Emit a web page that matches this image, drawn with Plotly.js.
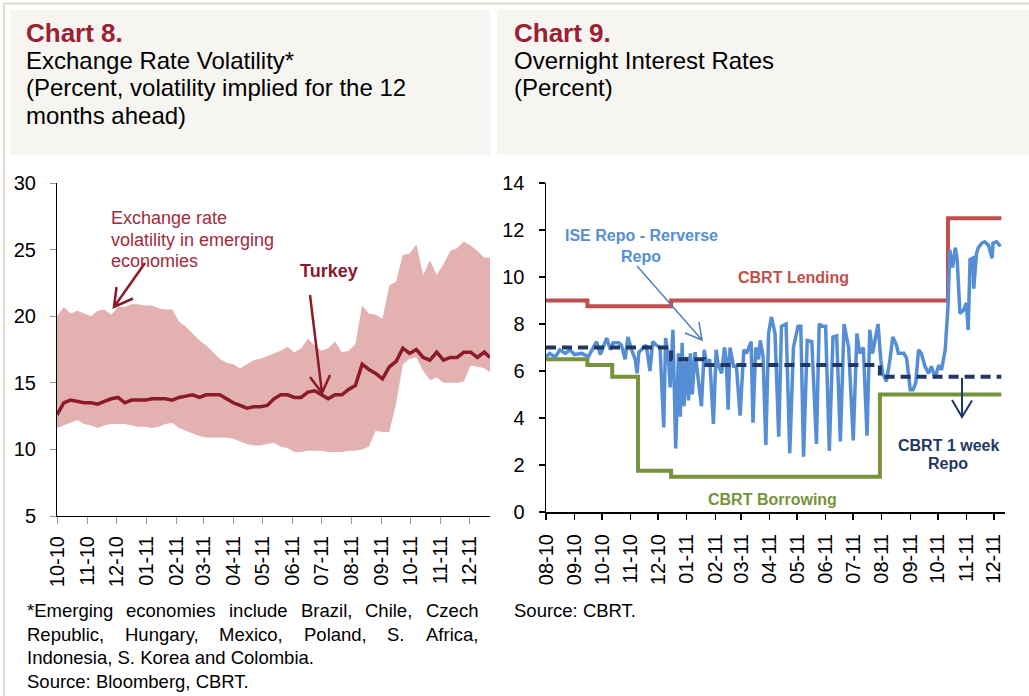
<!DOCTYPE html>
<html>
<head>
<meta charset="utf-8">
<script src="https://cdn.plot.ly/plotly-3.0.1.min.js"></script>
<style>html,body{margin:0;padding:0;background:#fff;}#chart{width:1029px;height:696px;}</style>
</head>
<body>
<div id="chart"></div>
<script>
// ---------- Chart 8 data (weekly readings) ----------
const bandDates = ['2010-10-01','2010-10-08','2010-10-15','2010-10-22','2010-10-29','2010-11-05','2010-11-12','2010-11-19','2010-11-26','2010-12-03','2010-12-10','2010-12-17','2010-12-24','2010-12-31','2011-01-07','2011-01-14','2011-01-21','2011-01-28','2011-02-04','2011-02-11','2011-02-18','2011-02-25','2011-03-04','2011-03-11','2011-03-18','2011-03-25','2011-04-01','2011-04-08','2011-04-15','2011-04-22','2011-04-29','2011-05-06','2011-05-13','2011-05-20','2011-05-27','2011-06-03','2011-06-10','2011-06-17','2011-06-24','2011-07-01','2011-07-08','2011-07-15','2011-07-22','2011-07-29','2011-08-05','2011-08-12','2011-08-19','2011-08-26','2011-09-02','2011-09-09','2011-09-16','2011-09-23','2011-09-30','2011-10-07','2011-10-14','2011-10-21','2011-10-28','2011-11-04','2011-11-11','2011-11-18','2011-11-25','2011-12-02','2011-12-09','2011-12-16','2011-12-22'];
const emUpper = [20.0,20.7,20.2,20.4,20.2,20.0,20.4,20.5,20.1,20.7,20.7,20.9,20.9,20.8,20.8,20.6,20.5,20.5,19.6,19.2,18.7,18.2,17.8,17.3,16.8,16.5,16.4,16.1,16.4,16.7,16.8,17.0,17.2,17.4,17.7,17.3,17.6,18.3,17.8,17.4,17.6,18.1,17.3,17.4,17.9,20.8,20.2,20.1,19.8,22.3,22.6,24.6,24.7,25.4,23.1,24.2,23.1,23.9,24.9,25.1,25.6,25.3,24.9,24.4,24.4];
const emLower = [11.6,11.8,12.0,12.2,11.9,11.8,11.6,11.8,11.9,11.9,11.9,11.8,11.7,11.7,11.6,11.7,11.9,12.0,11.6,11.4,11.2,11.0,10.9,10.9,10.9,10.9,10.8,10.6,10.4,10.3,10.3,10.4,10.5,10.2,10.1,9.8,9.8,9.9,9.9,9.9,9.8,9.8,9.8,9.9,9.9,10.0,10.2,11.4,11.3,11.3,13.4,16.4,16.8,16.9,15.9,15.2,15.4,15.0,15.0,15.0,15.1,16.3,16.2,16.1,15.8];
const turkeyVals = [12.6,13.5,13.7,13.6,13.5,13.5,13.4,13.6,13.8,13.9,13.5,13.7,13.7,13.7,13.8,13.8,13.8,13.7,13.9,14.0,14.1,13.9,14.1,14.1,14.1,13.8,13.5,13.3,13.1,13.2,13.2,13.3,13.8,14.1,14.1,13.9,13.9,14.3,14.4,14.1,13.8,14.1,14.1,14.5,14.8,16.4,16.0,15.7,15.3,16.2,16.6,17.6,17.2,17.5,16.9,16.7,17.3,16.7,16.9,16.9,17.3,17.3,16.9,17.3,16.9];

// ---------- Chart 9 data ----------
const lendDates = ['2010-08-01','2010-09-15','2010-12-15','2011-10-12','2011-12-09'];
const lendVals = [9.0, 8.75, 9.0, 12.5, 12.5];
const borrowDates = ['2010-08-01','2010-09-15','2010-10-12','2010-11-09','2010-12-15','2011-07-30','2011-12-09'];
const borrowVals = [6.5, 6.25, 5.75, 1.75, 1.5, 5.0, 5.0];
const weekRepoDates = ['2010-08-01','2010-12-15','2011-01-20','2011-07-30','2011-12-09'];
const weekRepoVals = [7.0, 6.5, 6.25, 5.75, 5.75];
const iseDates = ['2010-08-01','2010-08-05','2010-08-11','2010-08-16','2010-08-22','2010-08-27','2010-09-01','2010-09-09','2010-09-16','2010-09-21','2010-09-25','2010-09-29','2010-10-02','2010-10-06','2010-10-10','2010-10-13','2010-10-19','2010-10-22','2010-10-26','2010-10-29','2010-11-02','2010-11-06','2010-11-08','2010-11-10','2010-11-15','2010-11-18','2010-11-22','2010-11-25','2010-11-29','2010-12-03','2010-12-07','2010-12-09','2010-12-12','2010-12-14','2010-12-17','2010-12-20','2010-12-23','2010-12-25','2010-12-27','2010-12-29','2011-01-01','2011-01-03','2011-01-05','2011-01-07','2011-01-10','2011-01-14','2011-01-17','2011-01-20','2011-01-23','2011-01-26','2011-01-30','2011-02-02','2011-02-04','2011-02-08','2011-02-11','2011-02-13','2011-02-15','2011-02-17','2011-02-21','2011-02-24','2011-02-28','2011-03-04','2011-03-07','2011-03-12','2011-03-14','2011-03-17','2011-03-20','2011-03-22','2011-03-25','2011-03-28','2011-03-31','2011-04-03','2011-04-07','2011-04-11','2011-04-14','2011-04-19','2011-04-23','2011-04-27','2011-05-02','2011-05-05','2011-05-08','2011-05-12','2011-05-17','2011-05-22','2011-05-25','2011-05-29','2011-06-01','2011-06-05','2011-06-09','2011-06-13','2011-06-17','2011-06-21','2011-06-26','2011-07-01','2011-07-05','2011-07-08','2011-07-12','2011-07-16','2011-07-19','2011-07-22','2011-07-25','2011-07-28','2011-07-31','2011-08-02','2011-08-06','2011-08-10','2011-08-13','2011-08-17','2011-08-19','2011-08-25','2011-08-28','2011-09-01','2011-09-04','2011-09-07','2011-09-10','2011-09-13','2011-09-17','2011-09-21','2011-09-24','2011-09-28','2011-10-02','2011-10-05','2011-10-09','2011-10-12','2011-10-14','2011-10-17','2011-10-20','2011-10-22','2011-10-25','2011-10-29','2011-11-01','2011-11-03','2011-11-05','2011-11-08','2011-11-09','2011-11-12','2011-11-14','2011-11-18','2011-11-21','2011-11-25','2011-11-29','2011-11-30','2011-12-04','2011-12-08'];
const iseVals = [6.6,6.75,6.6,6.9,6.75,6.9,6.7,6.75,6.6,7.0,7.25,6.7,7.0,7.4,6.9,7.2,7.2,7.1,6.5,7.45,6.9,6.5,5.9,6.8,7.0,7.1,6.0,7.25,7.1,7.0,3.6,7.4,6.6,5.3,7.75,2.7,6.75,4.05,7.2,4.5,6.6,4.75,6.75,5.0,6.8,5.3,4.5,6.9,6.2,6.5,3.75,6.9,6.3,5.9,7.0,6.5,4.35,7.0,6.2,6.2,4.1,6.9,6.75,7.25,3.8,7.0,6.5,7.3,6.6,2.85,7.6,8.3,7.6,3.2,7.9,8.0,2.5,7.0,7.9,7.9,2.35,7.3,7.25,2.9,8.0,7.9,7.9,2.6,7.45,7.5,3.0,8.0,7.0,3.05,7.6,6.75,7.0,3.25,7.75,6.75,7.4,8.0,6.45,5.9,5.55,6.5,7.45,7.1,6.75,6.75,6.55,5.2,5.2,5.5,6.9,6.75,6.2,5.9,6.2,5.7,6.25,6.05,6.9,8.75,11.15,10.4,11.25,10.75,8.45,8.6,8.9,7.75,10.75,10.8,9.5,11.0,11.25,11.45,11.5,11.35,10.8,11.45,11.5,11.3];

// ---------- layout helpers ----------
const W = 1029, H = 696;
const FONT = 'Arial, "Liberation Sans", sans-serif';
const px = x => x / W;
const py = y => 1 - y / H;
const MAROON = '#9a2132';

const annotations = [];
function txt(text, x, y, size, color, opts) {
  annotations.push(Object.assign({
    text: text, xref: 'paper', yref: 'paper', x: px(x), y: py(y),
    xanchor: 'left', yanchor: 'middle', showarrow: false,
    font: {family: FONT, size: size, color: color}
  }, opts || {}));
}
// headers
txt('<b>Chart 8.</b>', 24, 33, 26, MAROON);
txt('Exchange Rate Volatility*', 24, 60, 24, '#000');
txt('(Percent, volatility implied for the 12', 24, 88, 24, '#000');
txt('months ahead)', 24, 116, 24, '#000');
txt('<b>Chart 9.</b>', 512, 33, 26, MAROON);
txt('Overnight Interest Rates', 512, 60, 24, '#000');
txt('(Percent)', 512, 88, 24, '#000');

// chart 8 labels
txt('Exchange rate', 109, 218, 18, '#a32b3b');
txt('volatility in emerging', 109, 240, 18, '#a32b3b');
txt('economies', 109, 261, 18, '#a32b3b');
txt('<b>Turkey</b>', 329, 271, 18, '#8b1a2b', {xanchor: 'center'});

// chart 9 labels
txt('<b>ISE Repo - Rerverse</b>', 641, 236, 16, '#558ed5', {xanchor: 'center'});
txt('<b>Repo</b>', 641, 256, 16, '#558ed5', {xanchor: 'center'});
txt('<b>CBRT Lending</b>', 793, 278, 16, '#c0504d', {xanchor: 'center'});
txt('<b>CBRT Borrowing</b>', 772, 499, 16, '#77933c', {xanchor: 'center'});
txt('<b>CBRT 1 week</b>', 948, 445, 16, '#1f3864', {xanchor: 'center'});
txt('<b>Repo</b>', 948, 463, 16, '#1f3864', {xanchor: 'center'});

// footnotes (justified)
const FN = 18.5;
const ctx = document.createElement('canvas').getContext('2d');
ctx.font = FN + 'px "Liberation Sans", Arial';
function justify(line, x0, x1, y) {
  const words = line.split(' ');
  const widths = words.map(w => ctx.measureText(w).width);
  const total = widths.reduce((a, b) => a + b, 0);
  const gap = (x1 - x0 - total) / (words.length - 1);
  let x = x0;
  words.forEach((w, i) => { txt(w, x, y, FN, '#000'); x += widths[i] + gap; });
}
justify('*Emerging economies include Brazil, Chile, Czech', 25, 476, 610);
justify('Republic, Hungary, Mexico, Poland, S. Africa,', 25, 476, 634);
txt('Indonesia, S. Korea and Colombia.', 25, 657, FN, '#000');
txt('Source: Bloomberg, CBRT.', 25, 681, FN, '#000');
txt('Source: CBRT.', 512, 610, FN, '#000');

// shapes: frame, header boxes, arrows
const shapes = [
  {type: 'rect', xref: 'paper', yref: 'paper', x0: px(10), x1: px(490), y0: py(10), y1: py(155), fillcolor: '#f6f5f1', line: {width: 0}, layer: 'below'},
  {type: 'rect', xref: 'paper', yref: 'paper', x0: px(497), x1: px(1029), y0: py(10), y1: py(155), fillcolor: '#f6f5f1', line: {width: 0}, layer: 'below'},
  {type: 'line', xref: 'paper', yref: 'paper', x0: px(4), x1: px(1029), y0: py(3.5), y1: py(3.5), line: {color: '#d6d0c2', width: 1.5}},
  {type: 'line', xref: 'paper', yref: 'paper', x0: px(4), x1: px(4), y0: py(3.5), y1: py(696), line: {color: '#d6d0c2', width: 1.5}}
];
function arrow(t, h, a1, a2, color, w) {
  const P = p => px(p[0]).toFixed(5) + ',' + py(p[1]).toFixed(5);
  shapes.push({type: 'path', xref: 'paper', yref: 'paper',
    path: 'M' + P(t) + 'L' + P(h) + 'M' + P(a1) + 'L' + P(h) + 'L' + P(a2),
    line: {color: color, width: w}});
}
arrow([145, 263], [114, 307], [116.5, 287], [133, 298.5], '#8b1a2b', 2.5);
arrow([310, 295], [322, 393], [310, 377], [330, 375], '#8b1a2b', 2.5);
arrow([637, 266], [702, 340], [685, 333], [699, 322], '#4f81bd', 1.5);
arrow([962, 378], [962, 417], [952, 400], [972, 400.5], '#1f3864', 2);

const traces = [
  {x: bandDates, y: emLower, type: 'scatter', mode: 'lines', line: {width: 0, color: '#e4b1b1'}, xaxis: 'x', yaxis: 'y', hoverinfo: 'skip'},
  {x: bandDates, y: emUpper, type: 'scatter', mode: 'lines', fill: 'tonexty', fillcolor: '#e4b1b1', line: {width: 0, color: '#e4b1b1'}, xaxis: 'x', yaxis: 'y'},
  {x: bandDates, y: turkeyVals, type: 'scatter', mode: 'lines', line: {width: 3.5, color: '#8b1a2b'}, xaxis: 'x', yaxis: 'y'},
  {x: borrowDates, y: borrowVals, type: 'scatter', mode: 'lines', line: {width: 4, color: '#77933c', shape: 'hv'}, xaxis: 'x2', yaxis: 'y2'},
  {x: lendDates, y: lendVals, type: 'scatter', mode: 'lines', line: {width: 4, color: '#c0504d', shape: 'hv'}, xaxis: 'x2', yaxis: 'y2'},
  {x: iseDates, y: iseVals, type: 'scatter', mode: 'lines', line: {width: 3.5, color: '#558ed5'}, xaxis: 'x2', yaxis: 'y2'},
  {x: weekRepoDates, y: weekRepoVals, type: 'scatter', mode: 'lines', line: {width: 4, color: '#1f3864', shape: 'hv', dash: '10px,6px'}, xaxis: 'x2', yaxis: 'y2'}
];

const tickFont = {family: FONT, size: 20, color: '#000'};
const layout = {
  width: W, height: H, margin: {l: 0, r: 0, t: 0, b: 0}, showlegend: false,
  paper_bgcolor: '#fff', plot_bgcolor: 'rgba(0,0,0,0)',
  font: {family: FONT},
  xaxis: {domain: [px(57), px(490)], anchor: 'y', type: 'date', range: ['2010-10-01', '2011-12-22'],
    showline: true, linecolor: '#000', linewidth: 1, ticks: 'outside', ticklen: 7, tickcolor: '#999',
    dtick: 'M1', tick0: '2010-10-01', tickformat: '%m-%y', tickangle: -90, tickfont: tickFont,
    showgrid: false, zeroline: false, ticklabelstandoff: 4},
  yaxis: {domain: [py(516), py(183)], anchor: 'x', range: [5, 30], dtick: 5,
    showline: true, linecolor: '#000', linewidth: 1, ticks: 'outside', ticklen: 6, tickcolor: '#999',
    tickfont: tickFont, showgrid: false, zeroline: false, ticklabelstandoff: 10},
  xaxis2: {domain: [px(546), px(1005)], anchor: 'y2', type: 'date', range: ['2010-08-01', '2011-12-13'],
    showline: true, linecolor: '#000', linewidth: 2, ticks: 'outside', ticklen: 6, tickwidth: 1.5, tickcolor: '#000',
    dtick: 'M1', tick0: '2010-08-01', tickformat: '%m-%y', tickangle: -90, tickfont: tickFont,
    showgrid: false, zeroline: false, ticklabelstandoff: 6},
  yaxis2: {domain: [py(512), py(183)], anchor: 'x2', range: [0, 14], dtick: 2,
    showline: true, linecolor: '#000', linewidth: 1.5, ticks: 'outside', ticklen: 6, tickwidth: 1.5, tickcolor: '#000',
    tickfont: tickFont, showgrid: false, zeroline: false, ticklabelstandoff: 10},
  annotations: annotations,
  shapes: shapes
};
Plotly.newPlot('chart', traces, layout, {displayModeBar: false, staticPlot: true});
</script>
</body>
</html>
